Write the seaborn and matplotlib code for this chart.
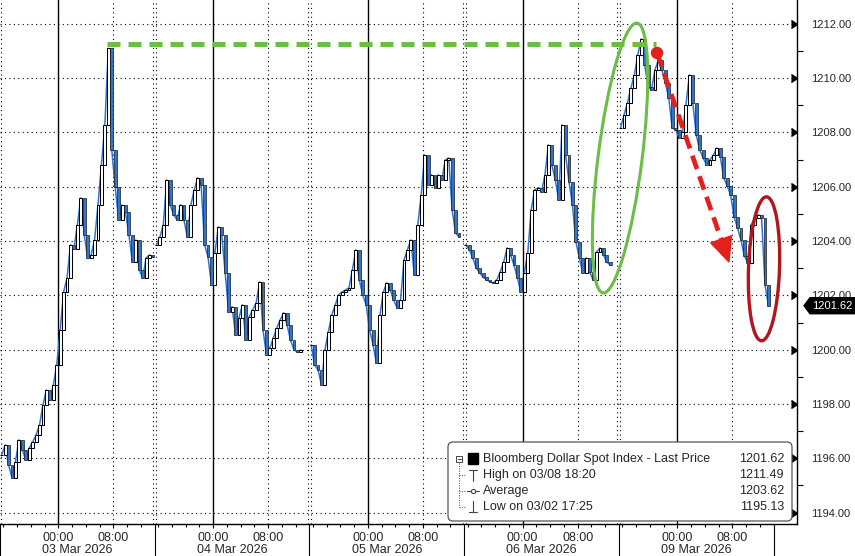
import numpy as np
import pandas as pd
import matplotlib
matplotlib.use('Agg')
import matplotlib.pyplot as plt
import matplotlib.transforms as mtransforms
from matplotlib.patches import Ellipse, FancyBboxPatch, Rectangle, Polygon, Circle
from matplotlib.lines import Line2D
import seaborn as sns

sns.set_style('white')
plt.rcParams['font.family'] = ['Liberation Sans', 'DejaVu Sans']

'''
Data: 30 minute closes, each session runs 15:30 (day before) to 14:00
'''
days = ['03 Mar 2026', '04 Mar 2026', '05 Mar 2026', '06 Mar 2026', '09 Mar 2026']

close_03 = [1196.13, 1196.49, 1195.76, 1195.28, 1195.87, 1196.68, 1196.31, 1195.94, 1196.38,
            1196.60, 1196.86, 1197.23, 1197.97, 1198.52, 1198.15, 1198.70, 1199.44, 1200.73,
            1202.13, 1202.64, 1203.86, 1203.70, 1204.60, 1205.59, 1204.23, 1203.38, 1203.49,
            1204.04, 1205.33, 1206.81, 1208.28, 1211.10, 1207.36, 1206.00, 1204.78, 1205.33,
            1205.08, 1204.23, 1203.23, 1204.04, 1202.94, 1202.64, 1203.38, 1203.49, 1203.42]
close_04 = [1203.86, 1204.15, 1204.60, 1206.25, 1205.33, 1204.97, 1204.78, 1205.33, 1204.78,
            1204.15, 1205.33, 1205.89, 1206.33, 1206.07, 1203.86, 1203.42, 1202.39, 1203.57,
            1204.52, 1204.23, 1202.83, 1201.39, 1201.58, 1200.55, 1201.17, 1201.65, 1200.36,
            1201.21, 1201.47, 1201.72, 1202.50, 1200.73, 1199.81, 1200.07, 1200.43, 1200.80,
            1201.10, 1201.36, 1200.91, 1200.36, 1199.99, 1199.92, 1199.99, None, None]
close_05 = [1200.18, 1199.44, 1199.26, 1198.70, 1199.99, 1200.66, 1201.28, 1201.65, 1202.02,
            1202.13, 1202.20, 1202.28, 1202.94, 1203.68, 1202.57, 1202.02, 1201.65, 1200.73,
            1200.18, 1199.50, 1201.28, 1202.13, 1202.46, 1202.20, 1201.83, 1201.54, 1201.83,
            1203.31, 1203.68, 1204.04, 1202.76, 1204.60, 1205.70, 1207.17, 1206.07, 1206.44,
            1205.96, 1206.44, 1206.25, 1206.99, 1207.06, 1205.15, 1204.30, 1204.15, None]
close_06 = [1203.86, 1203.68, 1203.38, 1203.01, 1202.83, 1202.68, 1202.57, 1202.50, 1202.46,
            1202.57, 1202.87, 1203.23, 1203.75, 1203.49, 1203.12, 1202.64, 1202.13, 1202.83,
            1203.57, 1205.15, 1205.89, 1205.96, 1205.81, 1206.44, 1207.54, 1206.81, 1206.25,
            1205.52, 1208.28, 1207.17, 1206.18, 1205.33, 1203.97, 1203.38, 1202.83, 1203.38,
            1202.87, 1202.57, 1203.60, 1203.75, 1203.49, 1203.23, 1203.12, None, None]
close_09 = [1208.17, 1208.65, 1209.09, 1209.64, 1210.12, 1210.86, 1211.45, 1210.49, 1209.68,
            1209.57, 1210.31, 1210.67, 1210.31, 1209.83, 1209.27, 1208.17, 1208.10, 1207.80,
            1208.02, 1209.02, 1210.12, 1209.09, 1207.91, 1207.36, 1207.06, 1206.81, 1206.99,
            1207.17, 1207.43, 1207.10, 1206.33, 1206.03, 1205.70, 1204.89, 1204.49, 1204.04,
            1203.45, 1203.20, 1204.60, 1204.85, 1204.97, 1204.85, 1202.39, 1201.62, None]
closes = [close_03, close_04, close_05, close_06, close_09]

y_ticks = [1194, 1196, 1198, 1200, 1202, 1204, 1206, 1208, 1210, 1212]
time_labels = ['00:00', '08:00']

legend_rows = [('Bloomberg Dollar Spot Index - Last Price', '1201.62'),
               ('High on 03/08 18:20', '1211.49'),
               ('Average', '1203.62'),
               ('Low on 03/02 17:25', '1195.13')]
last_price = 1201.62
high_level = 1211.25

SESSION_H = 22.5   # hours per session
BAR_H = 0.5
MIDNIGHT = 8.5     # hours from session open to 00:00

BLUE = '#2f74d0'
GREEN = '#6cbd45'
RED = '#e3211c'
DARKRED = '#b0161c'
W, H = 855, 556

# Building the dataframe
rows = []
for d, (day, vals) in enumerate(zip(days, closes)):
    for k, v in enumerate(vals):
        if v is None:
            continue
        rows.append({'day': day, 't': d * SESSION_H + k * BAR_H + BAR_H / 2, 'close': v})
df = pd.DataFrame(rows)
# each session opens on its own first print
df['open'] = df.groupby('day')['close'].shift(1).fillna(df['close'])

'''
Plot
'''
fig = plt.figure(figsize=(W / 100, H / 100), dpi=100)
ax = fig.add_axes([0, 32 / H, 797 / W, 524 / H])
ax.set_xlim(0, 115.9)
ax.set_ylim(1193.58, 1212.88)

dot = (0, (1, 3))
for yv in y_ticks:
    ax.axhline(yv, color='black', lw=0.8, ls=dot, zorder=1)
for d in range(len(days)):
    s = d * SESSION_H
    ax.axvline(s + MIDNIGHT, color='black', lw=1.0, zorder=1)
    ax.axvline(s + MIDNIGHT + 8, color='black', lw=0.8, ls=dot, zorder=1)
    if d == 0:
        ax.axvline(0.15, color='black', lw=0.8, ls=dot, zorder=1)
    else:
        ax.axvline(s - 0.22, color='black', lw=0.8, ls=dot, zorder=1)
        ax.axvline(s + 0.22, color='black', lw=0.8, ls=dot, zorder=1)

# close line
sns.lineplot(data=df, x='t', y='close', units='day', estimator=None, color=BLUE,
             lw=1.1, ax=ax, zorder=2, legend=False)

# candles
up = df[df['close'] >= df['open']]
dn = df[df['close'] < df['open']]
ax.bar(up['t'], up['close'] - up['open'], bottom=up['open'], width=0.42,
       color='white', edgecolor='black', linewidth=0.75, zorder=3)
ax.bar(dn['t'], dn['close'] - dn['open'], bottom=dn['open'], width=0.42,
       color=BLUE, edgecolor='#1a1a1a', linewidth=0.5, zorder=3)

ax.set_xlabel('')
ax.set_ylabel('')

# axes styling
for s in ['top', 'left']:
    ax.spines[s].set_visible(False)
for s in ['right', 'bottom']:
    ax.spines[s].set_color('black')
    ax.spines[s].set_linewidth(1.0)

ax.yaxis.tick_right()
ax.set_yticks(y_ticks)
ax.set_yticklabels([f'{v:.2f}' for v in y_ticks], fontsize=8)
ax.set_yticks([v + 1 for v in y_ticks[:-1]], minor=True)
ax.tick_params(axis='y', which='major', length=0, pad=10)
ax.tick_params(axis='y', which='minor', length=4, width=0.8, color='black',
               right=True, left=False)
trans_y = mtransforms.blended_transform_factory(ax.transAxes, ax.transData)
ax.plot([1.0] * len(y_ticks), y_ticks, ls='none', marker=5, ms=6, color='black',
        transform=trans_y, clip_on=False)

major_x = [d * SESSION_H + MIDNIGHT + h for d in range(len(days)) for h in (0, 8)]
ax.set_xticks(major_x)
ax.set_xticklabels(time_labels * len(days), fontsize=9)
minor_x = [d * SESSION_H + MIDNIGHT + h for d in range(len(days))
           for h in (-8, -6, -4, -2, 2, 4, 6, 10, 12)]
ax.set_xticks(minor_x, minor=True)
ax.tick_params(axis='x', which='major', length=3, width=0.8, pad=3, bottom=True, color='black')
ax.tick_params(axis='x', which='minor', length=2.5, width=0.8, bottom=True, color='black')

trans_x = mtransforms.blended_transform_factory(ax.transData, ax.transAxes)
for d, day in enumerate(days):
    ax.text(d * SESSION_H + SESSION_H / 2, -0.049, day, transform=trans_x,
            ha='center', va='center', fontsize=9)
ax.vlines([d * SESSION_H for d in range(len(days) + 1)], -0.07, 0, transform=trans_x,
          colors='black', lw=0.8, clip_on=False)

# green dashed high line
ax.plot([15.6, 95.4], [high_level, high_level], color=GREEN, lw=3.6,
        dashes=(2.6, 1.6), zorder=4, solid_capstyle='butt')

ident = mtransforms.IdentityTransform()


def disp(x, y):
    return ax.transData.transform((x, y))


# green ellipse
cx, cy = disp(90.17, 1207.06)
fig.add_artist(Ellipse((cx, cy), 44, 272, angle=-7.2, fill=False, ec=GREEN, lw=2.2,
                       transform=ident, zorder=4))

# red ellipse
cx, cy = disp(111.1, 1202.98)
fig.add_artist(Ellipse((cx, cy), 31, 144, angle=-2, fill=False, ec=DARKRED, lw=2.4,
                       transform=ident, zorder=4))

# red dashed arrow
p0 = np.array(disp(95.55, 1210.93))
p1 = np.array(disp(106.0, 1203.23))
u = (p1 - p0) / np.linalg.norm(p1 - p0)
perp = np.array([-u[1], u[0]])
base = p1 - 24 * u
fig.add_artist(Line2D([p0[0], base[0]], [p0[1], base[1]], color=RED, lw=3.4,
                      dashes=(3.0, 1.6), transform=ident, zorder=4))
fig.add_artist(Polygon([p1, base + 11 * perp, base - 11 * perp], closed=True, fc=RED,
                       ec=RED, transform=ident, zorder=4))
fig.add_artist(Circle(p0, 5.5, fc=RED, ec=RED, transform=ident, zorder=4))

# last price tag
ty = disp(0, last_price)[1]
fig.add_artist(Polygon([(804, ty), (810, ty + 8), (855, ty + 8), (855, ty - 8), (810, ty - 8)],
                       closed=True, fc='black', ec='black', transform=ident, zorder=6))
fig.text(812 / W, ty / H, f'{last_price:.2f}', color='white', fontsize=8,
         va='center', ha='left', zorder=7)

# legend box
fig.add_artist(FancyBboxPatch((448, H - 521), 344, 79,
                              boxstyle='round,pad=0,rounding_size=5', transform=ident,
                              fc='white', ec='#555555', lw=0.9, zorder=8))
row_y = [459, 475, 491, 507]
for (label, val), ry in zip(legend_rows, row_y):
    fig.text(483 / W, 1 - ry / H, label, fontsize=9, va='center', ha='left', zorder=9)
    fig.text(784 / W, 1 - ry / H, val, fontsize=9, va='center', ha='right', zorder=9)

icon = '#444444'
fig.add_artist(Rectangle((456, H - 462), 6, 6, fc='white', ec=icon, lw=0.7,
                         transform=ident, zorder=9))
fig.add_artist(Line2D([457.5, 460.5], [H - 459, H - 459], color=icon, lw=0.7,
                      transform=ident, zorder=9))
fig.add_artist(Rectangle((468, H - 464), 10, 11, fc='black', ec='black',
                         transform=ident, zorder=9))
fig.add_artist(Line2D([459, 459], [H - 463, H - 507], color=icon, lw=0.7, ls=(0, (1, 1.5)),
                      transform=ident, zorder=9))
for ry in row_y[1:]:
    fig.add_artist(Line2D([459, 465], [H - ry, H - ry], color=icon, lw=0.7, ls=(0, (1, 1.5)),
                          transform=ident, zorder=9))
# high / average / low icons
fig.add_artist(Line2D([473, 473], [H - 470, H - 481], color=icon, lw=0.8, transform=ident, zorder=9))
fig.add_artist(Line2D([469, 477], [H - 470, H - 470], color=icon, lw=0.8, transform=ident, zorder=9))
fig.add_artist(Line2D([467, 479], [H - 491, H - 491], color=icon, lw=0.8,
                      transform=ident, zorder=9))
fig.add_artist(Line2D([473], [H - 491], color=icon, marker='o', ms=3, mfc='white', mew=0.8,
                      ls='none', transform=ident, zorder=9))
fig.add_artist(Line2D([473, 473], [H - 501, H - 512], color=icon, lw=0.8, transform=ident, zorder=9))
fig.add_artist(Line2D([469, 477], [H - 512, H - 512], color=icon, lw=0.8, transform=ident, zorder=9))

fig.savefig('out.png', dpi=100)
